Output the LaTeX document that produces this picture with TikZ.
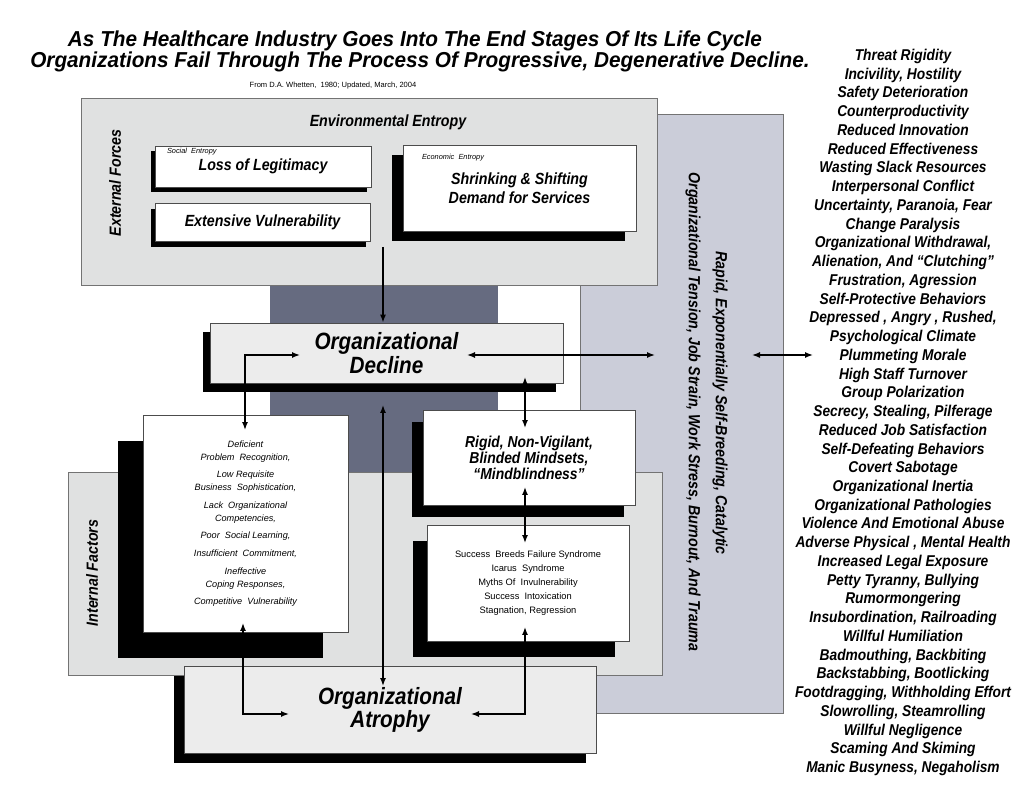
\documentclass[tikz,border=0pt]{standalone}
\usepackage{fontspec}
\setmainfont{Liberation Sans}
\newfontfamily\narrowsf{Liberation Sans}[FakeStretch=0.88]
\newfontfamily\titlesf{Liberation Sans}[FakeStretch=0.96]
\usetikzlibrary{positioning, arrows.meta, shadows}
\definecolor{panelgray}{HTML}{E0E1E1}
\definecolor{boxgray}{HTML}{ECECEC}
\definecolor{darkslate}{HTML}{666B80}
\definecolor{stripegray}{HTML}{CBCDD9}

\begin{document}
\begin{tikzpicture}[
    x=0.02cm, y=-0.02cm,
    panel/.style={draw=black!55, fill=panelgray, inner sep=0pt},
    box/.style={draw=black!70, fill=white, inner sep=0pt, align=center},
    dropbox/.style 2 args={box, drop shadow={shadow xshift=#1, shadow yshift=#2, fill=black, opacity=1}},
    head/.style={font=\narrowsf\bfseries\itshape\fontsize{9.2}{11}\selectfont},
    titletext/.style={font=\titlesf\bfseries\itshape\fontsize{12.3}{13}\selectfont, inner sep=0pt},
    tag/.style={font=\fontsize{4.2}{5}\selectfont\itshape, inner sep=0pt},
    symptom/.style={font=\narrowsf\bfseries\itshape\fontsize{8.9}{10}\selectfont, inner sep=0pt, anchor=base},
    link/.style={{Latex[length=1.6mm,width=1.2mm]}-{Latex[length=1.6mm,width=1.2mm]}, line width=0.8pt},
    feed/.style={-{Latex[length=1.6mm,width=1.2mm]}, line width=0.8pt}
]
\path[use as bounding box, fill=white] (0,0) rectangle (1036,797);

% Title
\node[titletext] (title1) at (415,41) {As The Healthcare Industry Goes Into The End Stages Of Its Life Cycle};
\node[titletext] (title2) at (420,62) {Organizations Fail Through The Process Of Progressive, Degenerative Decline.};
\node[font=\fontsize{4.3}{5}\selectfont] (source) at (333,86) {From D.A.\ Whetten,\ \ 1980; Updated, March, 2004};

% Background panels
\node[panel, fill=stripegray, minimum width=4.06cm, minimum height=11.98cm] (stripes) at (681.5,413.5) {};
\node[panel, draw=none, fill=darkslate, minimum width=4.56cm, minimum height=4.04cm] (darkcore) at (384,371) {};
\node[panel, minimum width=11.52cm, minimum height=3.74cm] (extpanel) at (369,191.5) {};
\node[panel, minimum width=11.88cm, minimum height=4.06cm] (intpanel) at (365,573.5) {};

\node[head, rotate=-90] (rapid) at (720,403) {Rapid, Exponentially Self-Breeding, Catalytic};
\node[head, rotate=-90] (tension) at (693,412) {Organizational Tension, Job Strain, Work Stress, Burnout, And Trauma};

% External forces
\node[head, rotate=90] (extlabel) at (115,183) {External Forces};
\node[head] (envlabel) at (388,122) {Environmental Entropy};
\node[dropbox={-0.08cm}{-0.1cm}, head, minimum width=4.32cm, minimum height=0.82cm] (loss) at (263,166.5) {Loss of Legitimacy};
\node[tag, below right=0.04cm and 0.24cm of loss.north west] (socent) {Social\ \ Entropy};
\node[dropbox={-0.08cm}{-0.12cm}, head, minimum width=4.3cm, minimum height=0.76cm] (extvul) at (262.5,222) {Extensive Vulnerability};
\node[dropbox={-0.22cm}{-0.2cm}, head, minimum width=4.66cm, minimum height=1.72cm] (shrink) at (519.5,188) {Shrinking \& Shifting\\Demand for Services};
\node[tag, below right=0.18cm and 0.38cm of shrink.north west] (econent) {Economic\ \ Entropy};

% Decline
\node[dropbox={-0.14cm}{-0.18cm}, fill=boxgray, minimum width=7.06cm, minimum height=1.2cm,
      font=\narrowsf\bfseries\itshape\fontsize{13.4}{11.5}\selectfont] (decline) at (386.5,353) {Organizational\\Decline};

% Internal factors
\node[head, rotate=90] (intlabel) at (92,573) {Internal Factors};
\node[dropbox={-0.5cm}{-0.52cm}, minimum width=4.1cm, minimum height=4.34cm,
      font=\fontsize{5.2}{7.4}\selectfont\itshape] (deficient) at (245.5,523.5)
     {Deficient\\Problem\ \ Recognition,\\[2.6pt]Low Requisite\\Business\ \ Sophistication,\\[2.6pt]Lack\ \ Organizational\\Competencies,\\[2.6pt]Poor\ \ Social Learning,\\[2.6pt]Insufficient\ \ Commitment,\\[2.6pt]Ineffective\\Coping Responses,\\[2.6pt]Competitive\ \ Vulnerability};
\node[dropbox={-0.22cm}{-0.24cm}, minimum width=4.24cm, minimum height=1.9cm,
      font=\narrowsf\bfseries\itshape\fontsize{9}{7.9}\selectfont] (rigid) at (529,457.5)
     {Rigid, Non-Vigilant,\\Blinded Mindsets,\\“Mindblindness”};
\node[dropbox={-0.28cm}{-0.32cm}, minimum width=4.04cm, minimum height=2.32cm,
      font=\fontsize{5.3}{7.9}\selectfont] (success) at (528,583)
     {Success\ \ Breeds Failure Syndrome\\Icarus\ \ Syndrome\\Myths Of\ \ Invulnerability\\Success\ \ Intoxication\\Stagnation, Regression};

% Atrophy
\node[dropbox={-0.2cm}{-0.2cm}, fill=boxgray, minimum width=8.24cm, minimum height=1.74cm,
      font=\narrowsf\bfseries\itshape\fontsize{13.4}{13}\selectfont] (atrophy) at (390,709.5) {Organizational\\Atrophy};

% Symptoms
\foreach \sym [count=\i] in {Threat Rigidity, {Incivility, Hostility}, Safety Deterioration,
    Counterproductivity, Reduced Innovation, Reduced Effectiveness, Wasting Slack Resources,
    Interpersonal Conflict, {Uncertainty, Paranoia, Fear}, Change Paralysis,
    {Organizational Withdrawal,}, {Alienation, And “Clutching”}, {Frustration, Agression},
    Self-Protective Behaviors, {Depressed , Angry , Rushed,}, Psychological Climate,
    Plummeting Morale, High Staff Turnover, Group Polarization,
    {Secrecy, Stealing, Pilferage}, Reduced Job Satisfaction, Self-Defeating Behaviors,
    Covert Sabotage, Organizational Inertia, Organizational Pathologies,
    Violence And Emotional Abuse, {Adverse Physical , Mental Health},
    Increased Legal Exposure, {Petty Tyranny, Bullying}, Rumormongering,
    {Insubordination, Railroading}, Willful Humiliation, {Badmouthing, Backbiting},
    {Backstabbing, Bootlicking}, {Footdragging, Withholding Effort},
    {Slowrolling, Steamrolling}, Willful Negligence, Scaming And Skiming,
    {Manic Busyness, Negaholism}}
  \node[symptom] (sym\i) at (903, {60.5+(\i-1)*18.74}) {\sym};

% Connectors
\coordinate (extout) at (383,247);
\coordinate (declineR) at (467,355);
\coordinate (stripeL) at (655,355);
\coordinate (stripeR) at (752,355);
\coordinate (listL) at (813,355);
\coordinate (declineL) at (300,355);
\coordinate (deficientT) at (245,430);
\coordinate (declineB) at (383,405);
\coordinate (atrophyT) at (383,686);
\coordinate (declineI) at (525,377);
\coordinate (rigidT) at (525,428);
\coordinate (rigidB) at (525,487);
\coordinate (successT) at (525,543);
\coordinate (deficientB) at (243,623);
\coordinate (atrophyL) at (289,714);
\coordinate (successB) at (525,627);
\coordinate (atrophyR) at (471,714);

\draw[feed] (extout) -- (extout |- decline.north);
\draw[link] (declineR) -- (stripeL);
\draw[link] (stripeR) -- (listL);
\draw[link] (deficientT) |- (declineL);
\draw[link] (declineB) -- (atrophyT);
\draw[link] (declineI) -- (rigidT);
\draw[link] (rigidB) -- (successT);
\draw[link] (deficientB) |- (atrophyL);
\draw[link] (successB) |- (atrophyR);

\end{tikzpicture}
\end{document}
